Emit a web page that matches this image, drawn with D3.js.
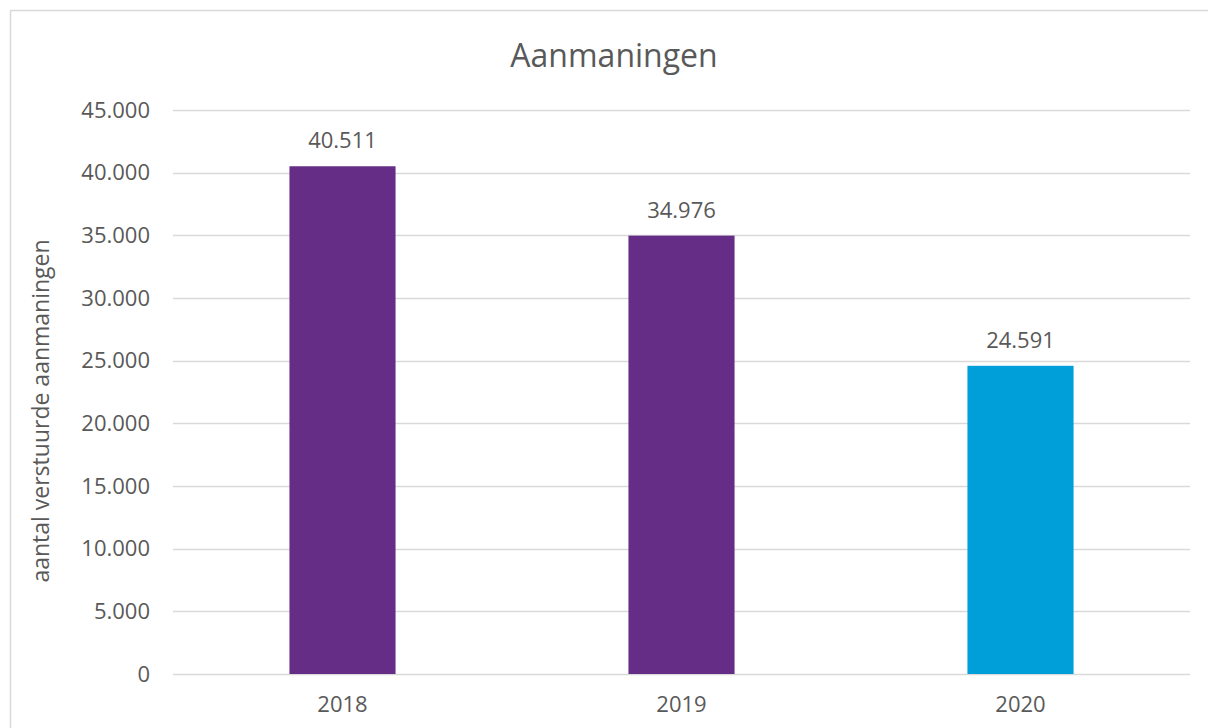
<!DOCTYPE html>
<html>
<head>
<meta charset="utf-8">
<script src="https://cdn.jsdelivr.net/npm/d3@7"></script>
<style>
  body { margin: 0; background: #fff; }
  text { font-family: "Open Sans", sans-serif; fill: #595959; }
</style>
</head>
<body>
<div id="wrapper"></div>
<script>
// data
const years = ["2018", "2019", "2020"];
const counts = [40511, 34976, 24591];
const barColors = ["#652d86", "#652d86", "#009fda"];
const yTicks = [0, 5000, 10000, 15000, 20000, 25000, 30000, 35000, 40000, 45000];

function drawChart() {
  const width = 1208;
  const height = 728;
  const margin = { top: 110, right: 18, bottom: 54, left: 173 };
  const boundedWidth = width - margin.left - margin.right;
  const boundedHeight = height - margin.top - margin.bottom;

  const svg = d3.select("#wrapper")
    .append("svg")
      .attr("width", width)
      .attr("height", height);

  // outer chart border (runs off the right/bottom edge)
  svg.append("rect")
      .attr("x", 10.5)
      .attr("y", 10.5)
      .attr("width", width + 20)
      .attr("height", height + 20)
      .attr("fill", "none")
      .attr("stroke", "#d9d9d9")
      .attr("stroke-width", 1.5);

  svg.append("text")
      .attr("x", 614)
      .attr("y", 67)
      .attr("text-anchor", "middle")
      .style("font-size", "32px")
      .text("Aanmaningen");

  const bounds = svg.append("g")
      .attr("transform", `translate(${margin.left},${margin.top})`);

  const xScale = d3.scaleBand()
    .domain(years)
    .range([0, boundedWidth])
    .paddingInner(0.687)
    .paddingOuter(0.3435);

  const yScale = d3.scaleLinear()
    .domain([0, 45000])
    .range([boundedHeight, 0]);

  const fmt = d3.formatLocale({ decimal: ",", thousands: ".", grouping: [3], currency: ["€", ""] }).format(",");

  // gridlines
  bounds.append("g")
    .selectAll("line")
    .data(yTicks)
    .join("line")
      .attr("x1", 0)
      .attr("x2", boundedWidth)
      .attr("y1", d => Math.round(yScale(d)) + 0.5)
      .attr("y2", d => Math.round(yScale(d)) + 0.5)
      .attr("stroke", "#d9d9d9")
      .attr("stroke-width", 1.5);

  // y axis labels
  const yAxis = bounds.append("g")
      .call(d3.axisLeft(yScale).tickValues(yTicks).tickFormat(fmt).tickSize(0).tickPadding(23));
  yAxis.select(".domain").remove();
  yAxis.selectAll("text")
      .style("font-size", "22px")
      .attr("fill", "#595959");

  // bars
  bounds.append("g")
    .selectAll("rect")
    .data(counts)
    .join("rect")
      .attr("x", (d, i) => xScale(years[i]))
      .attr("y", d => yScale(d))
      .attr("width", xScale.bandwidth())
      .attr("height", d => boundedHeight - yScale(d))
      .attr("fill", (d, i) => barColors[i]);

  // value labels
  bounds.append("g")
    .selectAll("text")
    .data(counts)
    .join("text")
      .attr("x", (d, i) => xScale(years[i]) + xScale.bandwidth() / 2)
      .attr("y", d => yScale(d) - 18)
      .attr("text-anchor", "middle")
      .style("font-size", "22px")
      .text(d => fmt(d));

  // x axis labels
  const xAxis = bounds.append("g")
      .attr("transform", `translate(0,${boundedHeight})`)
      .call(d3.axisBottom(xScale).tickSize(0).tickPadding(22));
  xAxis.select(".domain").remove();
  xAxis.selectAll("text")
      .style("font-size", "22px")
      .attr("fill", "#595959");

  // y axis title
  svg.append("text")
      .attr("transform", "translate(49,411) rotate(-90)")
      .attr("text-anchor", "middle")
      .style("font-size", "23px")
      .text("aantal verstuurde aanmaningen");
}
drawChart();
</script>
</body>
</html>
